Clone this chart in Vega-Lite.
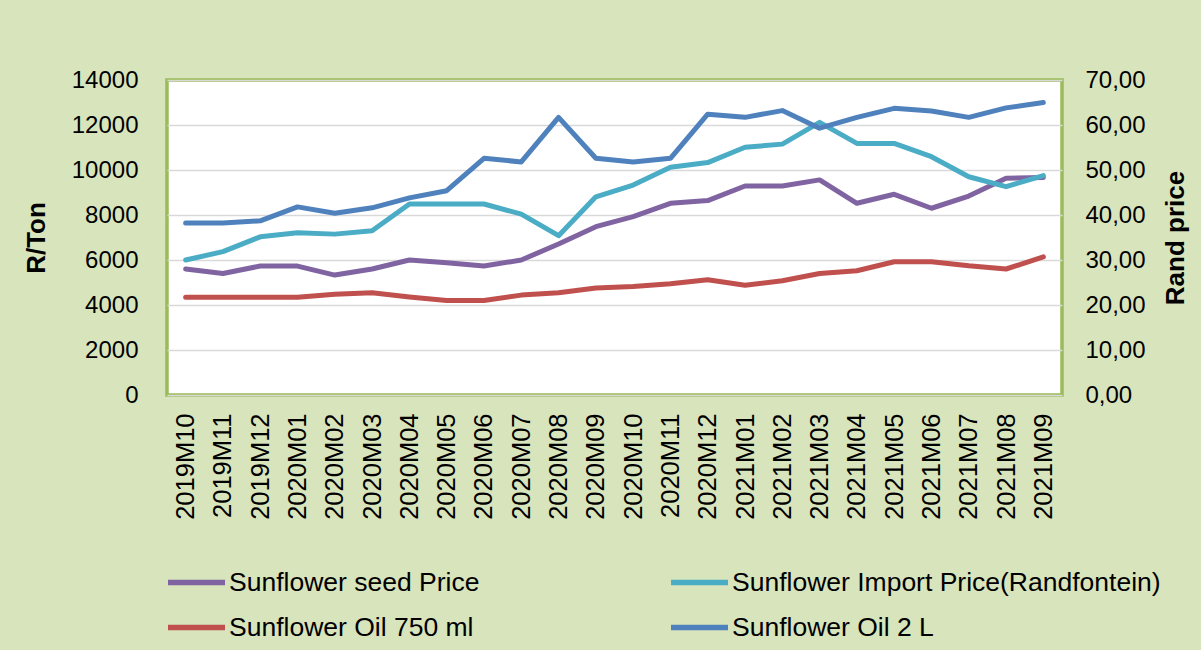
{
  "$schema": "https://vega.github.io/schema/vega-lite/v6.json",
  "width": 895,
  "height": 315,
  "autosize": {"type": "none"},
  "padding": {"left": 167, "top": 80, "right": 139, "bottom": 255},
  "background": "#d8e4bc",
  "config": {
    "font": "Liberation Sans",
    "view": {"fill": "#ffffff", "stroke": "#9bbb59", "strokeWidth": 3.5},
    "axis": {"labelColor": "#000000", "titleColor": "#000000", "labelFont": "Liberation Sans", "titleFont": "Liberation Sans"}
  },
  "data": {
    "values": [
      {"month": "2019M10", "seed": 5600, "import": 6000, "oil750": 21.7, "oil2l": 38.2},
      {"month": "2019M11", "seed": 5400, "import": 6370, "oil750": 21.7, "oil2l": 38.2},
      {"month": "2019M12", "seed": 5730, "import": 7030, "oil750": 21.7, "oil2l": 38.7},
      {"month": "2020M01", "seed": 5730, "import": 7210, "oil750": 21.7, "oil2l": 41.8},
      {"month": "2020M02", "seed": 5330, "import": 7150, "oil750": 22.4, "oil2l": 40.4},
      {"month": "2020M03", "seed": 5600, "import": 7300, "oil750": 22.7, "oil2l": 41.6},
      {"month": "2020M04", "seed": 6000, "import": 8490, "oil750": 21.8, "oil2l": 43.8},
      {"month": "2020M05", "seed": 5880, "import": 8490, "oil750": 21.0, "oil2l": 45.4},
      {"month": "2020M06", "seed": 5730, "import": 8490, "oil750": 21.0, "oil2l": 52.6},
      {"month": "2020M07", "seed": 6000, "import": 8040, "oil750": 22.2, "oil2l": 51.8},
      {"month": "2020M08", "seed": 6710, "import": 7080, "oil750": 22.7, "oil2l": 61.7},
      {"month": "2020M09", "seed": 7480, "import": 8810, "oil750": 23.8, "oil2l": 52.6},
      {"month": "2020M10", "seed": 7930, "import": 9330, "oil750": 24.1, "oil2l": 51.8},
      {"month": "2020M11", "seed": 8520, "import": 10120, "oil750": 24.7, "oil2l": 52.6},
      {"month": "2020M12", "seed": 8640, "import": 10330, "oil750": 25.6, "oil2l": 62.4},
      {"month": "2021M01", "seed": 9290, "import": 11010, "oil750": 24.4, "oil2l": 61.7},
      {"month": "2021M02", "seed": 9290, "import": 11150, "oil750": 25.4, "oil2l": 63.2},
      {"month": "2021M03", "seed": 9560, "import": 12120, "oil750": 27.0, "oil2l": 59.3},
      {"month": "2021M04", "seed": 8520, "import": 11180, "oil750": 27.6, "oil2l": 61.7},
      {"month": "2021M05", "seed": 8920, "import": 11180, "oil750": 29.6, "oil2l": 63.7},
      {"month": "2021M06", "seed": 8300, "import": 10590, "oil750": 29.6, "oil2l": 63.1},
      {"month": "2021M07", "seed": 8840, "import": 9700, "oil750": 28.7, "oil2l": 61.7},
      {"month": "2021M08", "seed": 9630, "import": 9260, "oil750": 28.0, "oil2l": 63.8},
      {"month": "2021M09", "seed": 9670, "import": 9750, "oil750": 30.7, "oil2l": 65.0}
    ]
  },
  "encoding": {
    "x": {
      "field": "month",
      "type": "ordinal",
      "scale": {"type": "point", "padding": 0.5},
      "axis": {
        "title": null,
        "labelAngle": -90,
        "labelFontSize": 25.5,
        "labelPadding": 18,
        "domain": false,
        "ticks": false,
        "grid": false
      }
    }
  },
  "layer": [
    {
      "transform": [
        {"fold": ["seed", "import"], "as": ["key", "value"]},
        {"calculate": "datum.key == 'seed' ? 'Sunflower seed Price' : 'Sunflower Import Price(Randfontein)'", "as": "series"}
      ],
      "mark": {"type": "line", "strokeWidth": 5, "strokeJoin": "round", "strokeCap": "round"},
      "encoding": {
        "y": {
          "field": "value",
          "type": "quantitative",
          "scale": {"domain": [0, 14000], "nice": false},
          "axis": {
            "title": "R/Ton",
            "titleFontSize": 26,
            "titleFontWeight": "bold",
            "titlePadding": 22,
            "values": [0, 2000, 4000, 6000, 8000, 10000, 12000, 14000],
            "format": "d",
            "labelFontSize": 24,
            "labelPadding": 29,
            "domain": false,
            "ticks": false,
            "grid": true,
            "gridColor": "#d9d9d9",
            "gridWidth": 1.5
          }
        },
        "color": {
          "field": "series",
          "type": "nominal",
          "scale": {
            "domain": ["Sunflower seed Price", "Sunflower Oil 750 ml", "Sunflower Import Price(Randfontein)", "Sunflower Oil 2 L"],
            "range": ["#8064a2", "#c0504d", "#4bacc6", "#4f81bd"]
          },
          "legend": {
            "title": null,
            "orient": "none",
            "legendX": -2,
            "legendY": 471,
            "columns": 2,
            "columnPadding": 180,
            "rowPadding": 0,
            "symbolType": "stroke",
            "symbolSize": 3249,
            "symbolStrokeWidth": 5.5,
            "labelFontSize": 26.5,
            "labelFont": "Liberation Sans",
            "labelColor": "#000000",
            "labelOffset": 1,
            "labelLimit": 600,
            "symbolLimit": 10
          }
        }
      }
    },
    {
      "transform": [
        {"fold": ["oil750", "oil2l"], "as": ["key", "value"]},
        {"calculate": "datum.key == 'oil750' ? 'Sunflower Oil 750 ml' : 'Sunflower Oil 2 L'", "as": "series"}
      ],
      "mark": {"type": "line", "strokeWidth": 5, "strokeJoin": "round", "strokeCap": "round"},
      "encoding": {
        "y": {
          "field": "value",
          "type": "quantitative",
          "scale": {"domain": [0, 70], "nice": false},
          "axis": {
            "orient": "right",
            "title": "Rand price",
            "titleFontSize": 26,
            "titleFontWeight": "bold",
            "titleAngle": 270,
            "titlePadding": 43,
            "values": [0, 10, 20, 30, 40, 50, 60, 70],
            "labelExpr": "replace(format(datum.value, '.2f'), '.', ',')",
            "labelFontSize": 24,
            "labelPadding": 23,
            "domain": false,
            "ticks": false,
            "grid": false
          }
        },
        "color": {"field": "series", "type": "nominal"}
      }
    }
  ],
  "resolve": {"scale": {"y": "independent"}}
}
